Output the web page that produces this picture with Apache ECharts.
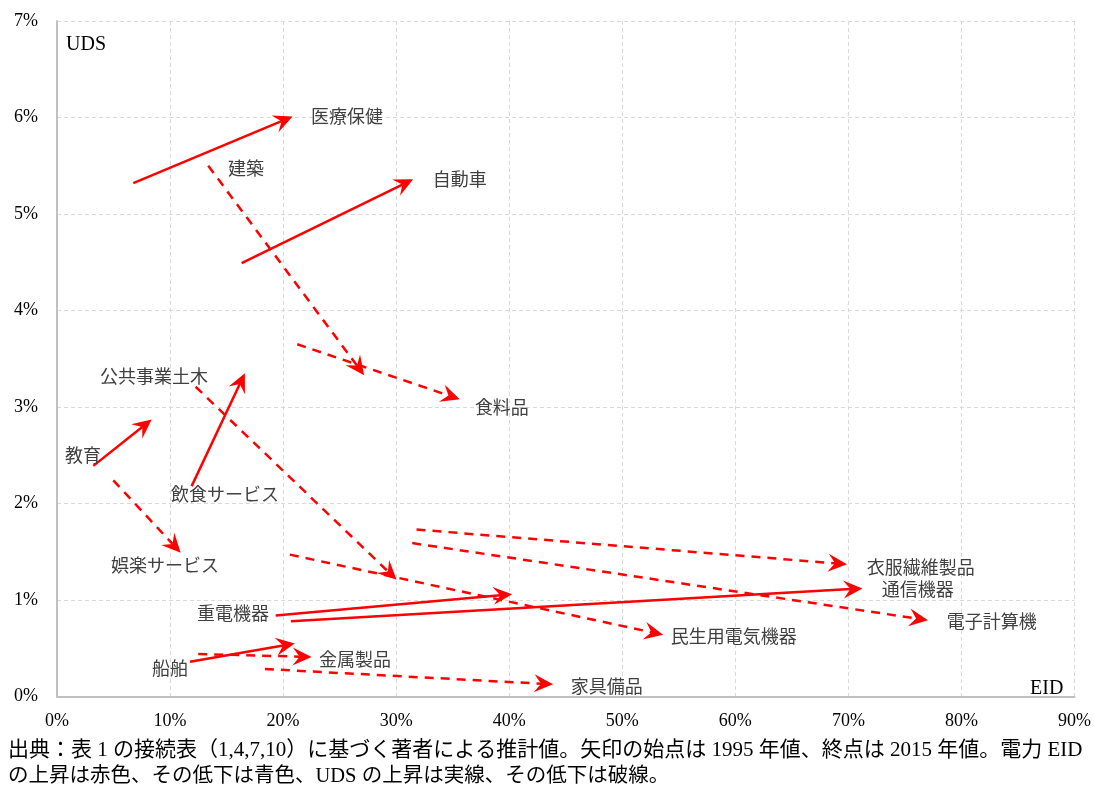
<!DOCTYPE html>
<html>
<head>
<meta charset="utf-8">
<script src="https://cdn.jsdelivr.net/npm/echarts@6/dist/echarts.min.js"></script>
<style>
  html, body { margin: 0; padding: 0; background: #fff; }
  #chart { width: 1094px; height: 785px; }
</style>
</head>
<body>
<div id="chart"></div>
<script>
// sectors, 1995 -> 2015 (EID %, UDS %)
const sectors = ['医療保健', '建築', '自動車', '食料品', '公共事業土木', '教育', '飲食サービス', '娯楽サービス',
    '民生用電気機器', '重電機器', '通信機器', '衣服繊維製品', '電子計算機', '船舶', '金属製品', '家具備品'];
const eid1995 = [6.75, 13.38, 16.33, 21.25, 12.26, 3.21, 11.91, 4.98, 20.60, 19.34, 20.69, 31.80, 31.42, 11.76, 12.49, 18.39];
const uds1995 = [5.32, 5.50, 4.49, 3.65, 3.21, 2.39, 2.18, 2.24, 1.47, 0.84, 0.78, 1.73, 1.59, 0.36, 0.44, 0.285];
const eid2015 = [20.84, 27.17, 31.50, 35.63, 30.04, 8.37, 16.62, 10.94, 53.61, 40.26, 71.24, 69.88, 77.04, 21.04, 22.52, 43.88];
const uds2015 = [6.01, 3.33, 5.36, 3.08, 1.21, 2.87, 3.35, 1.49, 0.64, 1.06, 1.12, 1.37, 0.79, 0.55, 0.41, 0.126];

// where each sector name sits (data units)
const labelX = [25.64, 16.71, 35.63, 39.35, 8.58, 2.30, 14.85, 9.55, 59.86, 15.56, 76.13, 76.39, 82.67, 9.99, 26.35, 48.63];
const labelY = [6.01, 5.48, 5.36, 3.00, 3.32, 2.50, 2.10, 1.36, 0.63, 0.865, 1.11, 1.34, 0.78, 0.295, 0.39, 0.11];

const xTicks = { min: 0, max: 90, step: 10 };
const yTicks = { min: 0, max: 7, step: 1 };

const caption1 = '出典：表 1 の接続表（1,4,7,10）に基づく著者による推計値。矢印の始点は 1995 年値、終点は 2015 年値。電力 EID';
const caption2 = 'の上昇は赤色、その低下は青色、UDS の上昇は実線、その低下は破線。';

const SERIF = '"Liberation Serif", "Times New Roman", "Noto Sans CJK JP", serif';
const LABEL_FONT = '"Noto Sans CJK JP", "Liberation Serif", sans-serif';

const arrowData = sectors.map((s, i) => [eid1995[i], uds1995[i], eid2015[i], uds2015[i]]);
const labelData = sectors.map((s, i) => [labelX[i], labelY[i], s]);

function renderArrow(params, api) {
    const p0 = api.coord([api.value(0), api.value(1)]);
    const p1 = api.coord([api.value(2), api.value(3)]);
    const udsUp = api.value(3) > api.value(1);
    const color = api.value(2) >= api.value(0) ? '#ff0000' : '#0000ff';

    const dx = p1[0] - p0[0], dy = p1[1] - p0[1];
    const len = Math.sqrt(dx * dx + dy * dy);
    const ux = dx / len, uy = dy / len;
    const nx = -uy, ny = ux;
    const L = 19, W = 9, notch = 12;
    const bx = p1[0] - ux * L, by = p1[1] - uy * L;
    const mx = p1[0] - ux * notch, my = p1[1] - uy * notch;

    return {
        type: 'group',
        children: [
            {
                type: 'line',
                shape: { x1: p0[0], y1: p0[1], x2: mx, y2: my },
                style: { stroke: color, lineWidth: 2.5, lineDash: udsUp ? null : [9, 7] }
            },
            {
                type: 'polygon',
                shape: { points: [p1, [bx + nx * W, by + ny * W], [mx, my], [bx - nx * W, by - ny * W]] },
                style: { fill: color }
            }
        ]
    };
}

function renderLabel(params, api) {
    const p = api.coord([api.value(0), api.value(1)]);
    return {
        type: 'text',
        x: p[0], y: p[1],
        style: {
            text: labelData[params.dataIndex][2],
            fill: '#404040',
            font: '18px ' + LABEL_FONT,
            align: 'center',
            verticalAlign: 'middle'
        }
    };
}

const chart = echarts.init(document.getElementById('chart'));

chart.setOption({
    animation: false,
    backgroundColor: '#fff',
    grid: { left: 57, right: 19, top: 21, bottom: 88.5 },
    xAxis: {
        type: 'value',
        min: xTicks.min, max: xTicks.max, interval: xTicks.step,
        axisLine: { show: true, onZero: false, lineStyle: { color: '#c0c0c0', width: 2 } },
        axisTick: { show: false },
        axisLabel: { formatter: '{value}%', color: '#000', fontFamily: SERIF, fontSize: 18, margin: 16 },
        splitLine: { show: true, lineStyle: { color: '#d9d9d9', type: [4, 3], width: 1 } }
    },
    yAxis: {
        type: 'value',
        min: yTicks.min, max: yTicks.max, interval: yTicks.step,
        axisLine: { show: true, onZero: false, lineStyle: { color: '#c0c0c0', width: 2 } },
        axisTick: { show: false },
        axisLabel: { formatter: '{value}%', color: '#000', fontFamily: SERIF, fontSize: 18, margin: 19 },
        splitLine: { show: true, lineStyle: { color: '#d9d9d9', type: [4, 3], width: 1 } }
    },
    graphic: [
        { type: 'text', left: 66, top: 35, style: { text: 'UDS', font: '20px ' + SERIF, fill: '#000' } },
        { type: 'text', left: 1030, top: 679, style: { text: 'EID', font: '20px ' + SERIF, fill: '#000' } },
        { type: 'text', left: 8, top: 740, style: { text: caption1, font: '21px ' + SERIF, fill: '#000' } },
        { type: 'text', left: 8, top: 766, style: { text: caption2, font: '20.5px ' + SERIF, fill: '#000' } }
    ],
    series: [
        {
            type: 'custom',
            name: 'arrows',
            renderItem: renderArrow,
            data: arrowData,
            encode: { x: [0, 2], y: [1, 3] },
            silent: true
        },
        {
            type: 'custom',
            name: 'labels',
            renderItem: renderLabel,
            data: labelData.map(d => [d[0], d[1]]),
            encode: { x: 0, y: 1 },
            silent: true
        }
    ]
});
</script>
</body>
</html>
